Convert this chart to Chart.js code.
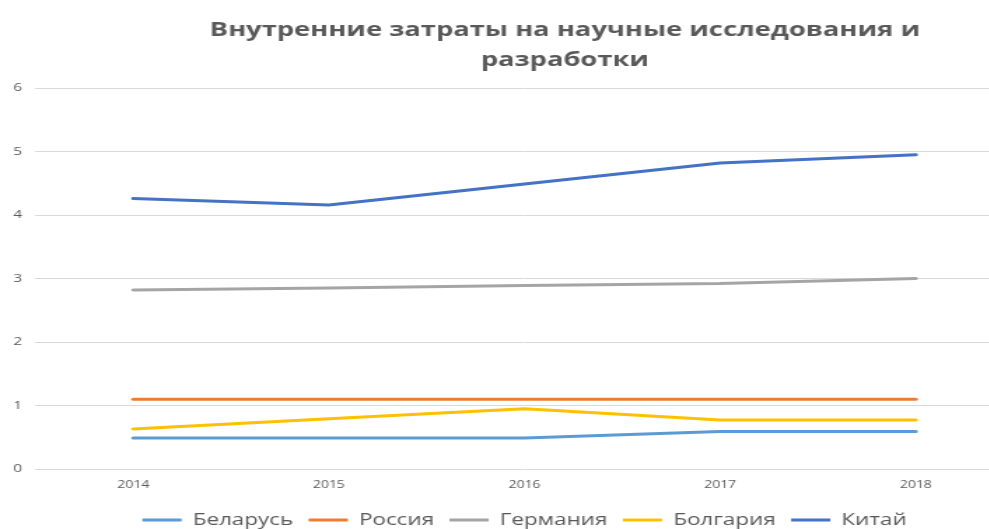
<!DOCTYPE html>
<html>
<head>
<meta charset="utf-8">
<script src="https://cdn.jsdelivr.net/npm/chart.js@4"></script>
<style>
  html, body { margin: 0; padding: 0; overflow: hidden; background: #fff; }
  /* the reference picture is stretched horizontally, so the chart is too */
  #wrap { width: 807px; height: 538px; transform: scaleX(1.4); transform-origin: 0 0; }
</style>
</head>
<body>
<div id="wrap"><canvas id="myChart" width="807" height="538"></canvas></div>
<script>
var years = ['2014', '2015', '2016', '2017', '2018'];
var belarus = [0.49, 0.49, 0.49, 0.59, 0.59];
var russia = [1.1, 1.1, 1.1, 1.1, 1.1];
var germany = [2.82, 2.85, 2.89, 2.92, 3.0];
var bulgaria = [0.63, 0.79, 0.95, 0.77, 0.77];
var china = [4.26, 4.16, 4.49, 4.82, 4.95];

function line(label, data, color) {
    return {
        label: label,
        data: data,
        fill: false,
        borderColor: color,
        backgroundColor: color,
        borderWidth: 3,
        borderCapStyle: 'round',
        pointRadius: 0,
        tension: 0
    };
}

// title is centred on the whole canvas, not between the layout paddings
var titleCenter = {
    id: 'titleCenter',
    afterLayout: function(chart) {
        chart.titleBlock.left = 0;
        chart.titleBlock.right = chart.width;
    }
};

var ctx = document.getElementById('myChart').getContext('2d');
var myChart = new Chart(ctx, {
    type: 'line',
    data: {
        labels: years,
        datasets: [
            line('Беларусь', belarus, '#5B9BD5'),
            line('Россия', russia, '#ED7D31'),
            line('Германия', germany, '#A5A5A5'),
            line('Болгария', bulgaria, '#FFC000'),
            line('Китай', china, '#4472C4')
        ]
    },
    plugins: [titleCenter],
    options: {
        responsive: false,
        animation: false,
        layout: {
            padding: { left: 0, right: 83, top: 0, bottom: 0 }
        },
        plugins: {
            title: {
                display: true,
                text: ['Внутренние затраты на научные исследования и', 'разработки'],
                color: '#595959',
                font: { family: 'Open Sans', size: 19.5, weight: 'bold', lineHeight: 1.54 },
                padding: { top: 15, bottom: 13 }
            },
            legend: {
                position: 'bottom',
                fullSize: false,
                labels: {
                    color: '#595959',
                    font: { family: 'Open Sans', size: 16 },
                    usePointStyle: true,
                    pointStyle: 'line',
                    pointStyleWidth: 28,
                    padding: 11
                }
            },
            tooltip: { enabled: false }
        },
        scales: {
            x: {
                offset: true,
                grid: { display: false, drawTicks: false },
                border: { display: false },
                ticks: {
                    color: '#595959',
                    font: { family: 'Open Sans', size: 10 },
                    padding: 10
                }
            },
            y: {
                min: 0,
                max: 6,
                grid: { color: '#D9D9D9', drawTicks: false },
                border: { display: false },
                ticks: {
                    stepSize: 1,
                    color: '#595959',
                    font: { family: 'Open Sans', size: 11 },
                    padding: 9.5
                }
            }
        }
    }
});
</script>
</body>
</html>
